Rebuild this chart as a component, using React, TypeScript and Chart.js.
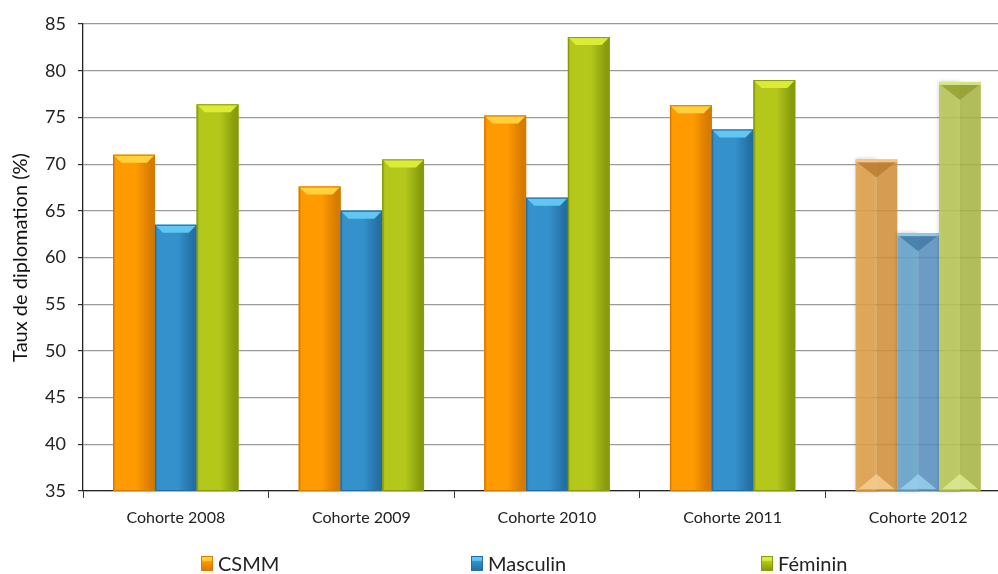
import React, { useEffect, useRef } from 'react';
import { Chart, registerables } from 'chart.js';
Chart.register(...registerables);

const cohorts = ['Cohorte 2008', 'Cohorte 2009', 'Cohorte 2010', 'Cohorte 2011', 'Cohorte 2012'];
const csmm = [71.0, 67.6, 75.2, 76.3, 70.5];
const masculin = [63.5, 65.0, 66.4, 73.7, 62.6];
const feminin = [76.4, 70.5, 83.6, 79.0, 78.8];
const seriesNames = ['CSMM', 'Masculin', 'Féminin'];
const yMin = 35;
const yMax = 85;
const yStep = 5;
// the last cohort is drawn faded (provisional)
const fadedIndex = 4;

const palette = [
  { body: '#FF9A00', top: '#FFD23C', edge: '#D67A00', fadeL: '#E0A24C', fadeR: '#D0903A', dark: '#BC7E32', light: '#F5CC8E' },
  { body: '#3491CB', top: '#62C6F2', edge: '#236FA3', fadeL: '#68A4CE', fadeR: '#5690BC', dark: '#467CA6', light: '#96CEEC' },
  { body: '#B3C81A', top: '#DCEB38', edge: '#879B0C', fadeL: '#BAC858', fadeR: '#A6B444', dark: '#94A236', light: '#DCE890' },
];

const FONT = 'Lato, "Liberation Sans", sans-serif';

const bevelPlugin = {
  id: 'bevel',
  afterDatasetsDraw(chart: any) {
    const ctx = chart.ctx as CanvasRenderingContext2D;
    const bottom = chart.chartArea.bottom;
    chart.data.datasets.forEach((_: any, di: number) => {
      const meta = chart.getDatasetMeta(di);
      const p = palette[di];
      meta.data.forEach((el: any, i: number) => {
        const props = el.getProps(['x', 'y', 'base', 'width'], true);
        const { x, y, width } = props;
        const base = Math.min(props.base, bottom);
        const l = x - width / 2;
        const r = x + width / 2;
        ctx.save();
        if (i === fadedIndex) {
          ctx.globalAlpha = 0.88;
          ctx.shadowColor = 'rgba(0,0,0,0.25)';
          ctx.shadowBlur = 4;
          ctx.fillStyle = p.fadeL;
          ctx.fillRect(l, y, width / 2, base - y);
          ctx.shadowBlur = 0;
          ctx.fillStyle = p.fadeR;
          ctx.fillRect(x, y, width / 2, base - y);
          ctx.fillStyle = p.light;
          ctx.fillRect(l, y, width, 3);
          const d = width * 0.36;
          ctx.fillStyle = p.dark;
          ctx.beginPath();
          ctx.moveTo(l + 2, y + 3);
          ctx.lineTo(r - 2, y + 3);
          ctx.lineTo(x, y + 3 + d);
          ctx.closePath();
          ctx.fill();
          ctx.fillStyle = p.light;
          ctx.beginPath();
          ctx.moveTo(l + 3, base - 2);
          ctx.lineTo(r - 3, base - 2);
          ctx.lineTo(x, base - 2 - d);
          ctx.closePath();
          ctx.fill();
        } else {
          const g = ctx.createLinearGradient(l, 0, r, 0);
          g.addColorStop(0, p.edge);
          g.addColorStop(0.06, p.body);
          g.addColorStop(0.55, p.body);
          g.addColorStop(0.92, p.edge);
          g.addColorStop(1, p.edge);
          ctx.fillStyle = g;
          ctx.fillRect(l, y, width, base - y);
          const b = 8;
          ctx.fillStyle = p.top;
          ctx.beginPath();
          ctx.moveTo(l, y);
          ctx.lineTo(r, y);
          ctx.lineTo(r - b, y + b);
          ctx.lineTo(l + b, y + b);
          ctx.closePath();
          ctx.fill();
          ctx.strokeStyle = p.edge;
          ctx.lineWidth = 1;
          ctx.strokeRect(l + 0.5, y + 0.5, width - 1, base - y - 1);
        }
        ctx.restore();
      });
    });
  },
};

export default function App() {
  const canvasRef = useRef<HTMLCanvasElement>(null);
  const chartRef = useRef<Chart | null>(null);

  useEffect(() => {
    if (!canvasRef.current) return;
    if (chartRef.current) chartRef.current.destroy();
    const values = [csmm, masculin, feminin];
    chartRef.current = new Chart(canvasRef.current, {
      type: 'bar',
      data: {
        labels: cohorts,
        datasets: seriesNames.map((name, di) => ({
          label: name,
          data: values[di],
          backgroundColor: cohorts.map((_, i) => (i === fadedIndex ? 'rgba(0,0,0,0)' : palette[di].body)),
          borderWidth: 0,
          barPercentage: 1,
          categoryPercentage: 0.675,
        })),
      },
      options: {
        animation: false,
        responsive: true,
        maintainAspectRatio: false,
        layout: { padding: { top: 24, right: 1, left: 0, bottom: 0 } },
        plugins: {
          legend: { display: false },
          tooltip: { enabled: false },
        },
        scales: {
          x: {
            grid: {
              display: true,
              drawOnChartArea: false,
              drawTicks: true,
              tickLength: 7,
              color: '#333',
            },
            border: { display: true, color: '#222', width: 1.3 },
            ticks: {
              color: '#222',
              font: { family: FONT, size: 16 },
              padding: 10,
            },
            afterFit: (s: any) => {
              s.height = 83;
            },
          },
          y: {
            min: yMin,
            max: yMax,
            ticks: {
              stepSize: yStep,
              color: '#222',
              font: { family: FONT, size: 18 },
              padding: 12,
            },
            grid: {
              color: '#9a9a9a',
              lineWidth: 1.2,
              tickLength: 5,
              tickColor: '#333',
            },
            border: { display: true, color: '#222', width: 1.3 },
            title: {
              display: true,
              text: 'Taux de diplomation (%)',
              color: '#111',
              font: { family: FONT, size: 20 },
              padding: { top: 9, bottom: 0 },
            },
            afterFit: (s: any) => {
              s.width = 83;
            },
          },
        },
      },
      plugins: [bevelPlugin],
    });
    return () => {
      if (chartRef.current) {
        chartRef.current.destroy();
        chartRef.current = null;
      }
    };
  }, []);

  const legendLeft = [201, 471, 761];

  return (
    <div style={{ position: 'fixed', left: 0, top: 0, width: 998, height: 574, overflow: 'hidden', background: '#fff' }}>
      <div style={{ position: 'absolute', left: 0, top: 0, width: 1012, height: 574 }}>
        <canvas ref={canvasRef}></canvas>
      </div>
      {seriesNames.map((name, i) => (
        <div
          key={name}
          style={{
            position: 'absolute',
            left: legendLeft[i],
            top: 552,
            height: 22,
            display: 'flex',
            alignItems: 'center',
            fontFamily: FONT,
            fontSize: 20,
            color: '#222',
          }}
        >
          <span
            style={{
              display: 'inline-block',
              width: 12,
              height: 15,
              marginRight: 5,
              background: `linear-gradient(180deg, ${palette[i].top} 0%, ${palette[i].top} 25%, ${palette[i].body} 35%, ${palette[i].edge} 100%)`,
              border: `1px solid ${palette[i].edge}`,
              boxSizing: 'border-box',
            }}
          ></span>
          {name}
        </div>
      ))}
    </div>
  );
}
